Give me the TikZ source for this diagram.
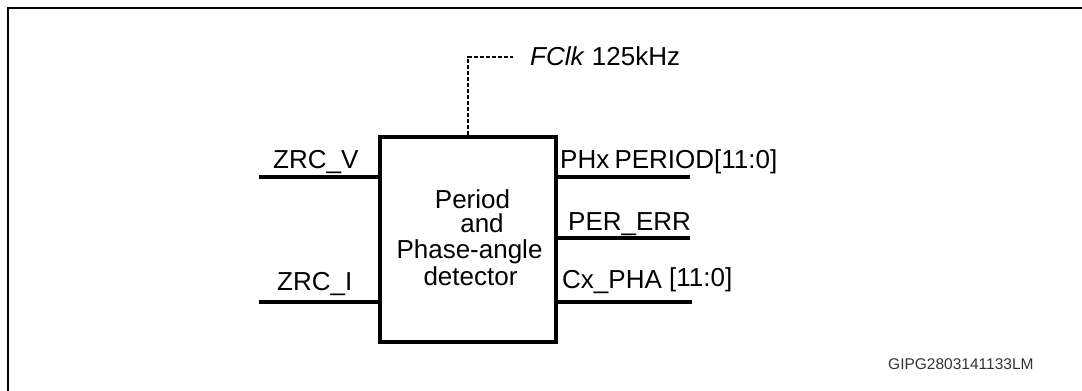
\documentclass[tikz,border=0pt]{standalone}
\usepackage{fontspec}
\setmainfont{Liberation Sans}
\begin{document}
\begin{tikzpicture}[x=1pt,y=-1pt,
  sig/.style={line width=3.4pt},
  frameline/.style={line width=2.5pt},
  clk/.style={line width=2.4pt, dash pattern=on 4pt off 2pt},
  lbl/.style={inner sep=0pt, anchor=base west, font=\fontsize{26}{30}\selectfont},
  ctr/.style={inner sep=0pt, anchor=base, font=\fontsize{26}{30}\selectfont},
  blk/.style={draw, line width=3.4pt, minimum width=176pt, minimum height=205pt, inner sep=0pt}
]
\useasboundingbox (0,0) rectangle (1082,391);
% outer frame (top and left edges visible)
\coordinate (ftl) at (8,8);
\coordinate (ftr) at (1090,8);
\coordinate (fbl) at (8,400);
\draw[frameline] (ftr) -- (ftl) -- (fbl);

% block
\node[blk] (det) at (468,239.5) {};
\node[ctr] (t1) at (472.5,208) {Period};
\node[ctr] (t2) at (482,232) {and};
\node[ctr] (t3) at (469.5,258) {Phase-angle};
\node[ctr] (t4) at (470.5,285) {detector};

% clock
\coordinate (cktop) at (468,57);
\coordinate (ckend) at (513,57);
\draw[clk] (det.north) -- (cktop) -- (ckend);
\node[lbl] (fclk) at (530,65) {\textit{FClk} 125kHz};

% inputs
\coordinate (zv) at (259,177);
\coordinate (zi) at (259,302);
\draw[sig] (zv) -- (det.west |- zv);
\draw[sig] (zi) -- (det.west |- zi);
\node[lbl] (lzv) at (273,168) {ZRC\_V};
\node[lbl] (lzi) at (277,290) {ZRC\_I};

% outputs
\coordinate (op) at (690,177);
\coordinate (oe) at (690,238);
\coordinate (oc) at (692,302);
\draw[sig] (det.east |- op) -- (op);
\draw[sig] (det.east |- oe) -- (oe);
\draw[sig] (det.east |- oc) -- (oc);
\node[lbl] (lop) at (560,168) {PHx\hspace{-2pt} PERIOD[11:0]};
\node[lbl] (loe) at (568,230) {PER\_ERR};
\node[lbl] (loc) at (562,288) {Cx\_PHA \raisebox{2pt}{[11:0]}};

% reference code
\node[inner sep=0pt, anchor=base west, font=\fontsize{15.5}{18}\selectfont, text=black!80] (code) at (888,369) {GIPG2803141133LM};
\end{tikzpicture}
\end{document}
